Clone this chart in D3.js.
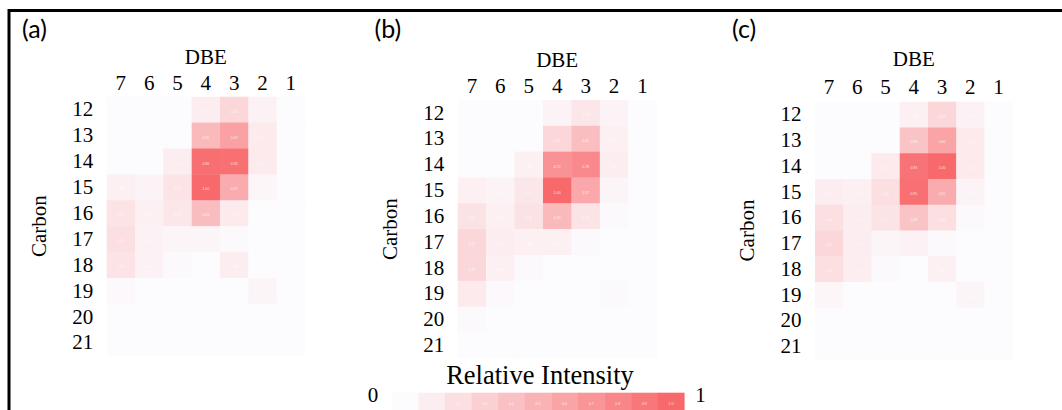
<!DOCTYPE html>
<html>
<head>
<meta charset="utf-8">
<script src="https://cdn.jsdelivr.net/npm/d3@7/dist/d3.min.js"></script>
<style>
  html, body { margin: 0; padding: 0; background: #fff; }
  svg { display: block; }
</style>
</head>
<body>
<svg id="chart" width="1062" height="410"></svg>
<script>
// ---------------- data ----------------
const dbe = [7, 6, 5, 4, 3, 2, 1];
const carbon = [12, 13, 14, 15, 16, 17, 18, 19, 20, 21];
const panelLetters = ["(a)", "(b)", "(c)"];
const legendValues = [0, 0.1, 0.2, 0.3, 0.4, 0.5, 0.6, 0.7, 0.8, 0.9, 1];
const legendTitle = "Relative Intensity";
const legendTicks = ["0", "1"];

// rows = carbon 12..21, columns = DBE 7..1
const panelA = [
  [0.01, 0.01, 0.01, 0.10, 0.25, 0.07, 0.01],
  [0.01, 0.01, 0.01, 0.45, 0.62, 0.12, 0.01],
  [0.01, 0.01, 0.10, 0.96, 0.95, 0.12, 0.01],
  [0.08, 0.06, 0.17, 1.00, 0.55, 0.04, 0.01],
  [0.17, 0.08, 0.15, 0.43, 0.12, 0.01, 0.01],
  [0.20, 0.07, 0.05, 0.05, 0.02, 0.01, 0.01],
  [0.17, 0.07, 0.02, 0.01, 0.10, 0.01, 0.01],
  [0.03, 0.01, 0.01, 0.01, 0.01, 0.05, 0.01],
  [0.01, 0.01, 0.01, 0.01, 0.01, 0.01, 0.01],
  [0.00, 0.00, 0.00, 0.00, 0.00, 0.00, 0.00]
];
const panelB = [
  [0.01, 0.01, 0.01, 0.06, 0.15, 0.06, 0.01],
  [0.01, 0.01, 0.01, 0.25, 0.42, 0.08, 0.01],
  [0.01, 0.01, 0.08, 0.72, 0.78, 0.10, 0.01],
  [0.08, 0.06, 0.15, 1.00, 0.57, 0.05, 0.01],
  [0.18, 0.08, 0.18, 0.45, 0.17, 0.02, 0.01],
  [0.25, 0.10, 0.08, 0.08, 0.02, 0.01, 0.01],
  [0.25, 0.08, 0.02, 0.01, 0.01, 0.01, 0.01],
  [0.12, 0.03, 0.01, 0.01, 0.01, 0.02, 0.01],
  [0.02, 0.01, 0.01, 0.01, 0.01, 0.01, 0.01],
  [0.00, 0.00, 0.00, 0.00, 0.00, 0.00, 0.00]
];
const panelC = [
  [0.01, 0.01, 0.01, 0.08, 0.25, 0.07, 0.01],
  [0.01, 0.01, 0.01, 0.38, 0.60, 0.12, 0.01],
  [0.01, 0.01, 0.12, 0.93, 1.00, 0.12, 0.01],
  [0.10, 0.08, 0.20, 0.95, 0.55, 0.06, 0.01],
  [0.20, 0.10, 0.17, 0.38, 0.20, 0.02, 0.01],
  [0.25, 0.10, 0.05, 0.07, 0.02, 0.01, 0.01],
  [0.20, 0.10, 0.02, 0.00, 0.08, 0.01, 0.01],
  [0.04, 0.01, 0.01, 0.01, 0.01, 0.05, 0.01],
  [0.01, 0.01, 0.01, 0.01, 0.01, 0.01, 0.01],
  [0.01, 0.01, 0.01, 0.01, 0.01, 0.01, 0.01]
];
const panels = [panelA, panelB, panelC];

// ---------------- layout ----------------
const layout = [
  { x0: 106.7, x1: 305.0, y0: 96.7, y1: 355.7, letterX: 22, dbeDy: 32.7, tickPad: 6.7 },
  { x0: 457.7, x1: 656.7, y0: 100.0, y1: 358.3, letterX: 374.5, dbeDy: 33.3, tickPad: 7.3 },
  { x0: 815.0, x1: 1012.7, y0: 101.7, y1: 359.3, letterX: 732, dbeDy: 35.7, tickPad: 7.6 }
];
const serif = "'Liberation Serif', 'Times New Roman', serif";
const color = d3.scaleLinear().domain([0, 1]).range(["#FCFCFF", "#F8696B"]).interpolate(d3.interpolateRgb);
const fmt = d3.format(".2f");

const svg = d3.select("#chart");

// frame (top and left rule)
svg.append("path")
  .attr("d", d3.line()([[9, 410], [9, 10.5], [1062, 10.5]]))
  .attr("fill", "none")
  .attr("stroke", "#000")
  .attr("stroke-width", 3);

panels.forEach((vals, pi) => {
  const L = layout[pi];
  const x = d3.scaleBand().domain(dbe).range([L.x0, L.x1]);
  const y = d3.scaleBand().domain(carbon).range([L.y0, L.y1]);
  const g = svg.append("g");

  const cells = [];
  vals.forEach((row, ri) => row.forEach((v, ci) => cells.push({ c: carbon[ri], d: dbe[ci], v })));

  g.selectAll("rect.cell").data(cells).join("rect")
    .attr("class", "cell")
    .attr("x", d => x(d.d))
    .attr("y", d => y(d.c))
    .attr("width", x.bandwidth() + 0.4)
    .attr("height", y.bandwidth() + 0.4)
    .attr("fill", d => color(d.v));

  g.selectAll("text.val").data(cells).join("text")
    .attr("class", "val")
    .attr("x", d => x(d.d) + x.bandwidth() / 2)
    .attr("y", d => y(d.c) + y.bandwidth() * 0.62)
    .attr("text-anchor", "middle")
    .attr("font-family", "'Liberation Sans', sans-serif")
    .attr("font-size", 3.5)
    .attr("fill", "#fff")
    .attr("opacity", 0.8)
    .text(d => fmt(d.v));

  // column axis (DBE)
  const ax = g.append("g")
    .attr("transform", `translate(0,${L.y0})`)
    .call(d3.axisTop(x).tickSize(0).tickPadding(L.tickPad));
  ax.select(".domain").remove();
  ax.selectAll("text").attr("font-family", serif).attr("font-size", 21).attr("fill", "#000");

  // row axis (Carbon)
  const ay = g.append("g")
    .attr("transform", `translate(${L.x0},0)`)
    .call(d3.axisLeft(y).tickSize(0).tickPadding(13.5));
  ay.select(".domain").remove();
  ay.selectAll("text").attr("font-family", serif).attr("font-size", 21).attr("fill", "#000");

  // titles
  g.append("text")
    .attr("x", (L.x0 + L.x1) / 2)
    .attr("y", L.y0 - L.dbeDy)
    .attr("text-anchor", "middle")
    .attr("font-family", serif).attr("font-size", 21).attr("fill", "#000")
    .text("DBE");

  g.append("text")
    .attr("transform", `translate(${L.x0 - 61},${(L.y0 + L.y1) / 2}) rotate(-90)`)
    .attr("text-anchor", "middle")
    .attr("font-family", serif).attr("font-size", 21).attr("fill", "#000")
    .text("Carbon");

  g.append("text")
    .attr("x", L.letterX)
    .attr("y", 37.5)
    .attr("font-family", "Lato, 'Open Sans', sans-serif")
    .attr("font-size", 25).attr("fill", "#000")
    .text(panelLetters[pi]);
});

// ---------------- legend ----------------
const lx = d3.scaleBand().domain(legendValues).range([391.7, 684.3]);
const lg = svg.append("g");
lg.selectAll("rect").data(legendValues).join("rect")
  .attr("x", d => lx(d))
  .attr("y", 392.7)
  .attr("width", lx.bandwidth() + 0.3)
  .attr("height", 20)
  .attr("fill", d => color(d));
lg.selectAll("text.val").data(legendValues).join("text")
  .attr("class", "val")
  .attr("x", d => lx(d) + lx.bandwidth() / 2)
  .attr("y", 405)
  .attr("text-anchor", "middle")
  .attr("font-family", "'Liberation Sans', sans-serif")
  .attr("font-size", 3.5)
  .attr("fill", "#fff")
  .attr("opacity", 0.8)
  .text(d => d3.format(".1f")(d));

lg.append("text")
  .attr("x", 540)
  .attr("y", 384.3)
  .attr("text-anchor", "middle")
  .attr("font-family", serif).attr("font-size", 26.5).attr("fill", "#000")
  .text(legendTitle);

lg.append("text")
  .attr("x", 373).attr("y", 401.7)
  .attr("text-anchor", "middle")
  .attr("font-family", serif).attr("font-size", 21).attr("fill", "#000")
  .text(legendTicks[0]);
lg.append("text")
  .attr("x", 700.5).attr("y", 401.7)
  .attr("text-anchor", "middle")
  .attr("font-family", serif).attr("font-size", 21).attr("fill", "#000")
  .text(legendTicks[1]);
</script>
</body>
</html>
